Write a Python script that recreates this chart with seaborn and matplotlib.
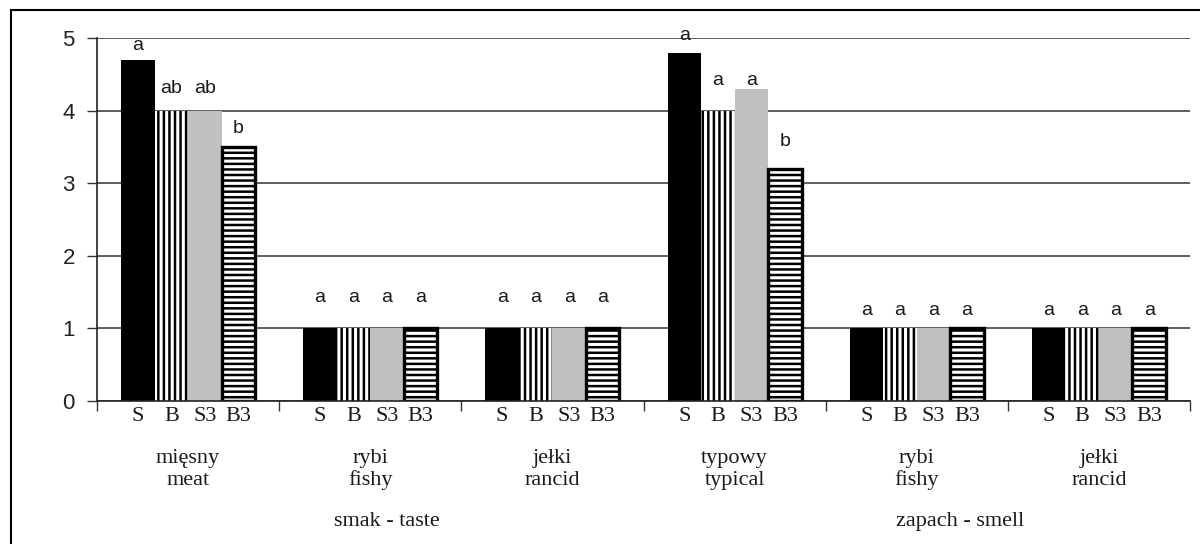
import numpy as np
import pandas as pd
import matplotlib
matplotlib.use("Agg")
import matplotlib.pyplot as plt
import seaborn as sns
from matplotlib.patches import Rectangle
from matplotlib.transforms import blended_transform_factory

# ---------------- data ----------------
categories_pl = ["mięsny", "rybi", "jełki", "typowy", "rybi", "jełki"]
categories_en = ["meat", "fishy", "rancid", "typical", "fishy", "rancid"]
samples = ["S", "B", "S3", "B3"]
S_vals = [4.7, 1.0, 1.0, 4.8, 1.0, 1.0]
B_vals = [4.0, 1.0, 1.0, 4.0, 1.0, 1.0]
S3_vals = [4.0, 1.0, 1.0, 4.3, 1.0, 1.0]
B3_vals = [3.5, 1.0, 1.0, 3.2, 1.0, 1.0]
letters_S = ["a", "a", "a", "a", "a", "a"]
letters_B = ["ab", "a", "a", "a", "a", "a"]
letters_S3 = ["ab", "a", "a", "a", "a", "a"]
letters_B3 = ["b", "a", "a", "b", "a", "a"]
group_labels = ["smak - taste", "zapach - smell"]
y_ticks = [0, 1, 2, 3, 4, 5]

values = [S_vals, B_vals, S3_vals, B3_vals]
letters = [letters_S, letters_B, letters_S3, letters_B3]
rows = []
for s, vals in zip(samples, values):
    for i, v in enumerate(vals):
        rows.append({"pos": i, "sample": s, "value": v})
df = pd.DataFrame(rows)

# ---------------- plot ----------------
sns.set_style("white")
plt.rcParams["hatch.linewidth"] = 1.8
SERIF = ["Liberation Serif", "DejaVu Serif"]
SANS = ["Liberation Sans", "DejaVu Sans"]
TXT = "#1a1a1a"

fig = plt.figure(figsize=(12, 5.44), dpi=100)
ax = fig.add_axes([97 / 1200, (544 - 401) / 544, 1093 / 1200, 363 / 544])

palette = {"S": "black", "B": "white", "S3": "#c0c0c0", "B3": "white"}
sns.barplot(data=df, x="pos", y="value", hue="sample", hue_order=samples,
            palette=palette, width=0.736, legend=False, ax=ax,
            saturation=1, errorbar=None)

styles = {
    "S": dict(hatch=None, edgecolor="black", linewidth=0),
    "B": dict(hatch="|||", edgecolor="black", linewidth=0),
    "S3": dict(hatch=None, edgecolor="#c0c0c0", linewidth=0),
    "B3": dict(hatch="---", edgecolor="black", linewidth=2.4),
}
pads = [
    [0.20, 0.43, 0.43, 0.24, 0.25, 0.25],
    [0.31, 0.43, 0.43, 0.42, 0.25, 0.25],
    [0.31, 0.43, 0.43, 0.12, 0.25, 0.25],
    [0.25, 0.43, 0.43, 0.37, 0.25, 0.25],
]
centers = []
names = []
for k, (cont, s) in enumerate(zip(ax.containers, samples)):
    for j, p in enumerate(cont.patches):
        st = styles[s]
        p.set_hatch(st["hatch"])
        p.set_edgecolor(st["edgecolor"])
        p.set_linewidth(st["linewidth"])
        cx = p.get_x() + p.get_width() / 2
        h = p.get_height()
        centers.append(cx)
        names.append(s)
        ax.text(cx, h + pads[k][j], letters[k][j], ha="center", va="center",
                fontsize=14, family=SANS, color=TXT)

ax.set_ylim(0, 5)
ax.set_xlim(-0.5, 5.5)
ax.set_yticks(y_ticks)
ax.set_yticklabels([str(t) for t in y_ticks], fontsize=16, family=SANS,
                   color="#222222")
ax.yaxis.grid(True, color="#333333", linewidth=1.1)
ax.set_axisbelow(True)
ax.tick_params(axis="y", which="major", direction="out", length=7, width=1,
               color="#333333", pad=9, left=True)

# x axis: bar labels as major ticks (no mark), group boundaries as minor ticks
ax.set_xticks(centers)
ax.set_xticklabels(names, fontsize=16, family=SERIF, color=TXT)
ax.tick_params(axis="x", which="major", length=0, pad=4)
ax.set_xticks(np.arange(-0.5, 6, 1.0), minor=True)
ax.tick_params(axis="x", which="minor", direction="out", length=7, width=1,
               color="#333333", bottom=True)
ax.set_xlabel("")
ax.set_ylabel("")

for sp in ["top", "right"]:
    ax.spines[sp].set_visible(False)
for sp in ["left", "bottom"]:
    ax.spines[sp].set_visible(True)
    ax.spines[sp].set_color("#222222")
    ax.spines[sp].set_linewidth(1.2)

tr = blended_transform_factory(ax.transData, ax.transAxes)
for i, (pl, en) in enumerate(zip(categories_pl, categories_en)):
    ax.text(i, (401 - 463) / 363, pl, ha="center", va="baseline",
            fontsize=16, family=SERIF, transform=tr, color=TXT)
    ax.text(i, (401 - 485) / 363, en, ha="center", va="baseline",
            fontsize=16, family=SERIF, transform=tr, color=TXT)
group_x = [1.09, 4.24]
for gx, g in zip(group_x, group_labels):
    ax.text(gx, (401 - 526) / 363, g, ha="center", va="baseline",
            fontsize=16, family=SERIF, transform=tr, color=TXT)

# outer frame (right and bottom edges lie outside the image)
fig.add_artist(Rectangle((11 / 1200, -0.2), 1.5, 1.2 - 10 / 544,
                         transform=fig.transFigure, fill=False,
                         edgecolor="black", linewidth=1.5, clip_on=False))

fig.savefig("out.png", dpi=100)
